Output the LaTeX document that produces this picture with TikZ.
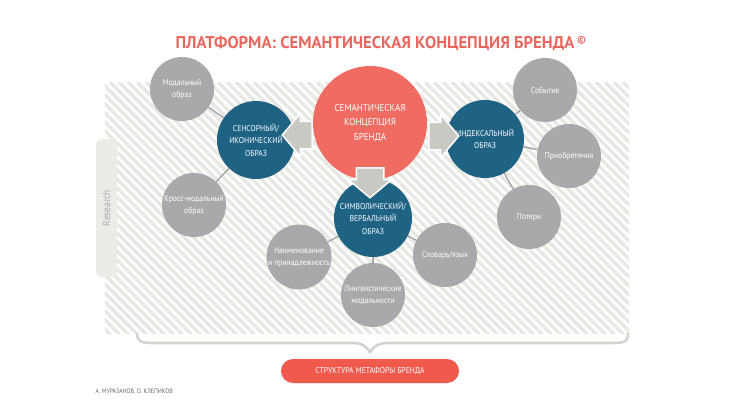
\documentclass[tikz,border=0pt]{standalone}
\usepackage{fontspec}
\setmainfont{PT Sans}[FakeStretch=0.9]
\newfontfamily\titlefont{PT Sans}[FakeStretch=0.98]
\usetikzlibrary{positioning,shapes,shapes.arrows}

\definecolor{titlered}{HTML}{E9675F}
\definecolor{circred}{HTML}{F06B62}
\definecolor{pillred}{HTML}{EF5A4D}
\definecolor{deepblue}{HTML}{1E6284}
\definecolor{softgray}{HTML}{A8A9AB}
\definecolor{arrowgray}{HTML}{C9C9C4}
\definecolor{stripegray}{HTML}{E8E8E3}
\definecolor{linegray}{HTML}{A6A6A6}

\pgfdeclarelayer{back}
\pgfdeclarelayer{mid}
\pgfsetlayers{back,mid,main}

\begin{document}
\begin{tikzpicture}[%
        x=1pt,y=-1pt,
        core/.style={%
          circle,
          fill=circred,
          minimum size=114pt,
          inner sep=0pt,
          align=center,
          text=white,
          font=\fontsize{10}{14.5}\selectfont
        },
        image/.style={%
          circle,
          fill=deepblue,
          minimum size=78pt,
          inner sep=0pt,
          align=center,
          text=white,
          font=\fontsize{8.5}{12.5}\selectfont
        },
        facet/.style={%
          circle,
          fill=softgray,
          minimum size=64pt,
          inner sep=0pt,
          align=center,
          text=white,
          font=\fontsize{8.5}{12}\selectfont
        },
        blockarrow/.style={%
          single arrow,
          fill=arrowgray,
          draw=white,
          line width=1.5pt,
          minimum height=30pt,
          single arrow head extend=8pt,
          single arrow tip angle=100
        },
        flat/.style={inner xsep=0pt,inner ysep=13pt},
        upright/.style={inner xsep=13pt,inner ysep=0pt},
        link/.style={linegray,line width=1.4pt}
      ]
      \useasboundingbox (0,0) rectangle (730,412);

      % hatched field
      \begin{pgfonlayer}{back}
        \begin{scope}
          \clip (105,82) rectangle (629,333);
          \foreach \i in {-160,-151,...,640}
            \draw[stripegray,line width=3.2pt] (\i,82) -- ++(260,260);
        \end{scope}
      \end{pgfonlayer}

      \node[font=\titlefont\bfseries\fontsize{17}{17}\selectfont,text=titlered,anchor=west] (title) at (172,43)
        {ПЛАТФОРМА: СЕМАНТИЧЕСКАЯ КОНЦЕПЦИЯ БРЕНДА\,\raisebox{0.55ex}{\fontsize{11}{11}\selectfont\textcopyright}};

      \node[rectangle,rounded corners=6pt,fill=stripegray!85,minimum width=138pt,minimum height=21pt,
            rotate=90,text=softgray,font=\fontsize{10.5}{10.5}\selectfont] (research) at (106.5,208) {Research};

      \node[facet] (modal) at (182,89) {Модальный\\образ};
      \node[facet] (cross) at (194,205) {Кросс-модальный\\образ};
      \node[facet] (events) at (545,90) {События};
      \node[facet] (gain) at (569,156) {Приобретения};
      \node[facet] (loss) at (529,217) {Потери};
      \node[facet] (name) at (299,257) {Наименование\\и принадлежность};
      \node[facet] (ling) at (373,295) {Лингвистические\\модальности};
      \node[facet] (dict) at (445,255) {Словарь/язык};

      \node[image] (sensor) at (256,140) {СЕНСОРНЫЙ/\\ИКОНИЧЕСКИЙ\\ОБРАЗ};
      \node[image] (index) at (485,139) {ИНДЕКСАЛЬНЫЙ\\ОБРАЗ};
      \node[image] (symbol) at (373,218) {СИМВОЛИЧЕСКИЙ/\\ВЕРБАЛЬНЫЙ\\ОБРАЗ};

      \node[core] (brand) at (370,123) {СЕМАНТИЧЕСКАЯ\\КОНЦЕПЦИЯ\\БРЕНДА};

      \begin{pgfonlayer}{mid}
        \path (sensor) edge[link] (modal)
        (sensor) edge[link] (cross)
        (index) edge[link] (events)
        (index) edge[link] (gain)
        (index) edge[link] (loss)
        (symbol) edge[link] (name)
        (symbol) edge[link] (ling)
        (symbol) edge[link] (dict);
      \end{pgfonlayer}

      \node[blockarrow,flat,shape border rotate=180] (toleft) at (303,135) {};
      \node[blockarrow,flat] (toright) at (438,136) {};
      \node[blockarrow,upright,shape border rotate=270] (todown) at (370,177) {};

      % brace and caption
      \draw[stripegray!80!gray,line width=2.6pt]
        (137,333) .. controls (137,342) and (141,343) .. (155,343) -- (352,343)
        .. controls (362,343) and (366,346) .. (370,352)
        .. controls (374,346) and (378,343) .. (388,343) -- (612,343)
        .. controls (626,343) and (628,341) .. (628,333);

      \node[rectangle,rounded corners=12pt,fill=pillred,minimum width=178pt,minimum height=24pt,
            text=white,font=\fontsize{8.5}{8.5}\selectfont] (metaphor) at (370,371) {СТРУКТУРА МЕТАФОРЫ БРЕНДА};

      \node[anchor=west,text=black!60,font=\fontsize{6.5}{6.5}\selectfont] (authors) at (92,392) {А. МУРАЗАНОВ, О. КЛЕПИКОВ};
  \end{tikzpicture}
\end{document}
